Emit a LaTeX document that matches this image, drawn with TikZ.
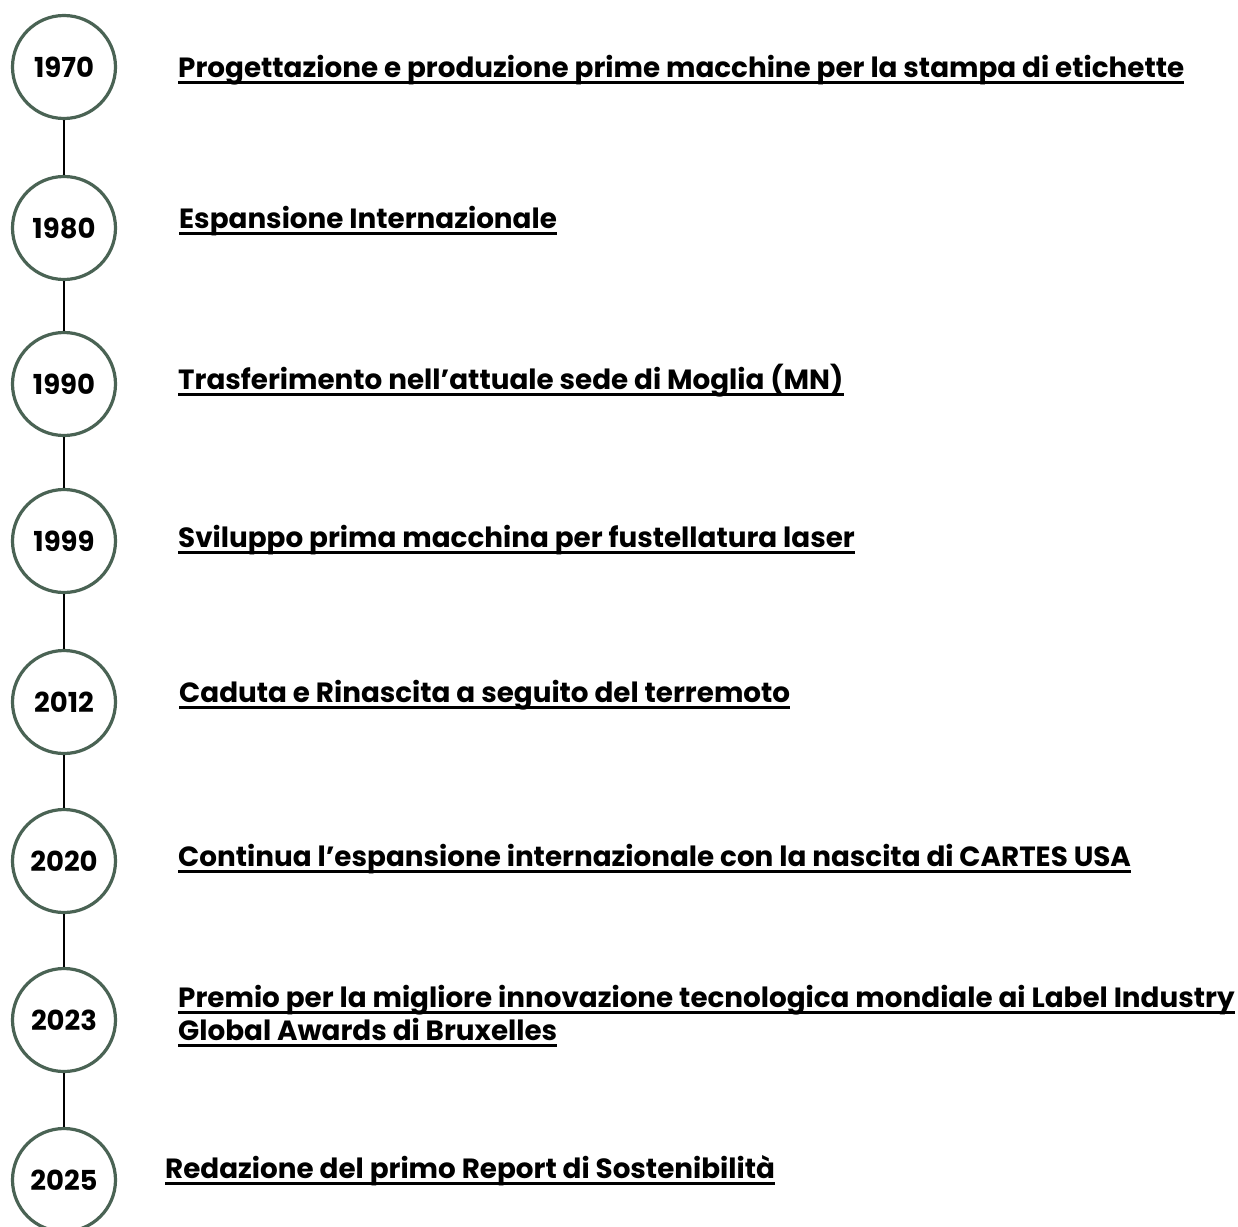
\documentclass[tikz,border=0pt]{standalone}
\usepackage{fontspec}
\setmainfont{Poppins}
\definecolor{ring}{RGB}{74,99,84}
\begin{document}
\begin{tikzpicture}[x=1pt,y=-1pt,
  yr/.style={circle,draw=ring,line width=3.2pt,fill=white,minimum size=103pt,inner sep=0pt,font=\bfseries\fontsize{27.5}{32}\selectfont},
  ev/.style={anchor=base west,inner sep=0pt,font=\bfseries\fontsize{27.8}{33}\selectfont},
  ul/.style={line width=3pt,black},
  link/.style={line width=2pt,black}]
\useasboundingbox (0,0) rectangle (1238,1226);
\node[yr] (c1) at (64,67) {1970};
\node[yr] (c2) at (64,228) {1980};
\node[yr] (c3) at (64,384) {1990};
\node[yr] (c4) at (64,541) {1999};
\node[yr] (c5) at (64,702) {2012};
\node[yr] (c6) at (64,861) {2020};
\node[yr] (c7) at (64,1020) {2023};
\node[yr] (c8) at (64,1180) {2025};
\draw[link] (c1) -- (c2);
\draw[link] (c2) -- (c3);
\draw[link] (c3) -- (c4);
\draw[link] (c4) -- (c5);
\draw[link] (c5) -- (c6);
\draw[link] (c6) -- (c7);
\draw[link] (c7) -- (c8);
\node[ev] (t1) at (178,77) {Progettazione e produzione prime macchine per la stampa di etichette};
\node[ev] (t2) at (179,228) {Espansione Internazionale};
\node[ev] (t3) at (178,389) {Trasferimento nell’attuale sede di Moglia (MN)};
\node[ev] (t4) at (178,547) {Sviluppo prima macchina per fustellatura laser};
\node[ev] (t5) at (179,702) {Caduta e Rinascita a seguito del terremoto};
\node[ev] (t6) at (178,866) {Continua l’espansione internazionale con la nascita di CARTES USA};
\node[ev] (t7a) at (178,1007) {Premio per la migliore innovazione tecnologica mondiale ai Label Industry};
\node[ev] (t7b) at (178,1040) {Global Awards di Bruxelles};
\node[ev] (t8) at (165,1178) {Redazione del primo Report di Sostenibilità};
\foreach \t in {t1,t2,t3,t4,t5,t6,t7a,t7b,t8}
  \draw[ul] ([yshift=-5.5pt]\t.base west) -- ([yshift=-5.5pt]\t.base east);
\end{tikzpicture}
\end{document}
